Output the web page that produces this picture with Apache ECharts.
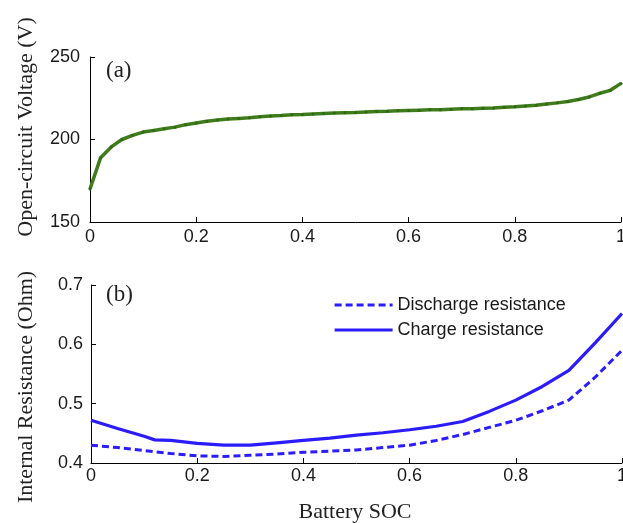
<!DOCTYPE html>
<html>
<head>
<meta charset="utf-8">
<script src="https://cdn.jsdelivr.net/npm/echarts@6/dist/echarts.min.js"></script>
<style>
  html, body { margin: 0; padding: 0; background: #fff; }
  #chart { width: 623px; height: 523px; }
</style>
</head>
<body>
<div id="chart"></div>
<script>
// Battery state of charge sample points for the voltage curve
const socVoltage = [0, 0.02, 0.04, 0.06, 0.08, 0.10, 0.12, 0.14, 0.16, 0.18,
  0.20, 0.22, 0.24, 0.26, 0.28, 0.30, 0.32, 0.34, 0.36, 0.38,
  0.40, 0.42, 0.44, 0.46, 0.48, 0.50, 0.52, 0.54, 0.56, 0.58,
  0.60, 0.62, 0.64, 0.66, 0.68, 0.70, 0.72, 0.74, 0.76, 0.78,
  0.80, 0.82, 0.84, 0.86, 0.88, 0.90, 0.92, 0.94, 0.96, 0.98, 1.00];

// Open-circuit voltage (V)
const ocVoltage = [170, 189, 195.5, 200, 202.5, 204.5, 205.5, 206.5, 207.5, 209,
  210, 211, 211.8, 212.4, 212.8, 213.2, 213.8, 214.3, 214.6, 215,
  215.2, 215.5, 215.8, 216, 216.2, 216.4, 216.7, 217, 217.1, 217.4,
  217.6, 217.8, 218, 218.1, 218.4, 218.6, 218.7, 218.9, 219.1, 219.5,
  219.8, 220.3, 220.8, 221.5, 222.2, 223, 224.2, 225.8, 228, 229.8, 234];

// SOC sample points for the resistance curves
const socResistance = [0, 0.05, 0.10, 0.12, 0.15, 0.20, 0.25, 0.30, 0.35, 0.40, 0.45,
  0.50, 0.55, 0.60, 0.65, 0.70, 0.75, 0.80, 0.85, 0.90, 0.95, 1.00];

// Internal resistance (Ohm)
const dischargeR = [0.430, 0.426, 0.421, 0.419, 0.416, 0.412, 0.411, 0.413, 0.415, 0.418, 0.420,
  0.422, 0.426, 0.430, 0.438, 0.448, 0.460, 0.472, 0.488, 0.506, 0.545, 0.590];
const chargeR = [0.472, 0.458, 0.445, 0.439, 0.438, 0.433, 0.430, 0.430, 0.434, 0.438, 0.442,
  0.447, 0.451, 0.456, 0.462, 0.470, 0.487, 0.506, 0.529, 0.556, 0.603, 0.652];

const socTicks = { min: 0, max: 1, interval: 0.2 };
const voltageTicks = { min: 150, max: 250, interval: 50 };
const resistanceTicks = { min: 0.4, max: 0.7, interval: 0.1 };

const pairs = (xs, ys) => xs.map((x, i) => [x, ys[i]]);

const labelFont = { fontFamily: 'Liberation Sans, Arial, sans-serif', fontSize: 18, color: '#1a1a1a' };
const serif = 'Liberation Serif, Times New Roman, serif';

function xAxisCfg(gridIndex, margin) {
  return {
    type: 'value', gridIndex, min: socTicks.min, max: socTicks.max, interval: socTicks.interval,
    axisLine: { show: true, lineStyle: { color: '#000', width: 1 } },
    axisTick: { show: true, inside: true, length: 5, lineStyle: { color: '#000' } },
    axisLabel: Object.assign({ margin }, labelFont),
    splitLine: { show: false }
  };
}
function yAxisCfg(gridIndex, t, margin) {
  return {
    type: 'value', gridIndex, min: t.min, max: t.max, interval: t.interval,
    axisLine: { show: true, lineStyle: { color: '#000', width: 1 } },
    axisTick: { show: true, inside: true, length: 5, lineStyle: { color: '#000' } },
    axisLabel: Object.assign({ margin }, labelFont),
    splitLine: { show: false }
  };
}

const chart = echarts.init(document.getElementById('chart'), null, { renderer: 'canvas' });
chart.setOption({
  animation: false,
  backgroundColor: '#fff',
  grid: [
    { left: 90, right: 2, top: 57, height: 165, outerBoundsMode: 'none', containLabel: false },
    { left: 91, right: 1, top: 285, height: 178, outerBoundsMode: 'none', containLabel: false }
  ],
  xAxis: [xAxisCfg(0, 6), xAxisCfg(1, 4)],
  yAxis: [yAxisCfg(0, voltageTicks, 10), yAxisCfg(1, resistanceTicks, 8)],
  legend: {
    data: ['Discharge resistance', 'Charge resistance'],
    orient: 'vertical',
    left: 328, top: 291,
    itemWidth: 58, itemHeight: 14, itemGap: 7,
    itemStyle: { opacity: 0 },
    lineStyle: { width: 3.2 },
    textStyle: { fontFamily: 'Liberation Sans, Arial, sans-serif', fontSize: 18, color: '#1a1a1a' }
  },
  graphic: [
    { type: 'text', left: 106, top: 59, style: { text: '(a)', font: '23px ' + serif, fill: '#222' } },
    { type: 'text', left: 106, top: 283, style: { text: '(b)', font: '23px ' + serif, fill: '#222' } },
    { type: 'text', x: 26, y: 127, rotation: Math.PI / 2,
      style: { text: 'Open-circuit Voltage (V)', font: '22px ' + serif, fill: '#222', align: 'center', verticalAlign: 'middle' } },
    { type: 'text', x: 26, y: 387, rotation: Math.PI / 2,
      style: { text: 'Internal Resistance (Ohm)', font: '22px ' + serif, fill: '#222', align: 'center', verticalAlign: 'middle' } },
    { type: 'text', x: 355, y: 512,
      style: { text: 'Battery SOC', font: '22px ' + serif, fill: '#222', align: 'center', verticalAlign: 'middle' } }
  ],
  series: [
    {
      name: 'Open-circuit voltage', type: 'line', xAxisIndex: 0, yAxisIndex: 0,
      data: pairs(socVoltage, ocVoltage),
      showSymbol: true, symbol: 'circle', symbolSize: 3,
      itemStyle: { color: '#2f6a12' },
      lineStyle: { color: '#3f7d1c', width: 3.5 }
    },
    {
      name: 'Discharge resistance', type: 'line', xAxisIndex: 1, yAxisIndex: 1,
      data: pairs(socResistance, dischargeR),
      showSymbol: false, symbol: 'none',
      itemStyle: { color: '#2b1cff' },
      lineStyle: { color: '#2b1cff', width: 3, type: [7, 4] }
    },
    {
      name: 'Charge resistance', type: 'line', xAxisIndex: 1, yAxisIndex: 1,
      data: pairs(socResistance, chargeR),
      showSymbol: false, symbol: 'none',
      itemStyle: { color: '#2b1cff' },
      lineStyle: { color: '#2b1cff', width: 3.2 }
    }
  ]
});
</script>
</body>
</html>
